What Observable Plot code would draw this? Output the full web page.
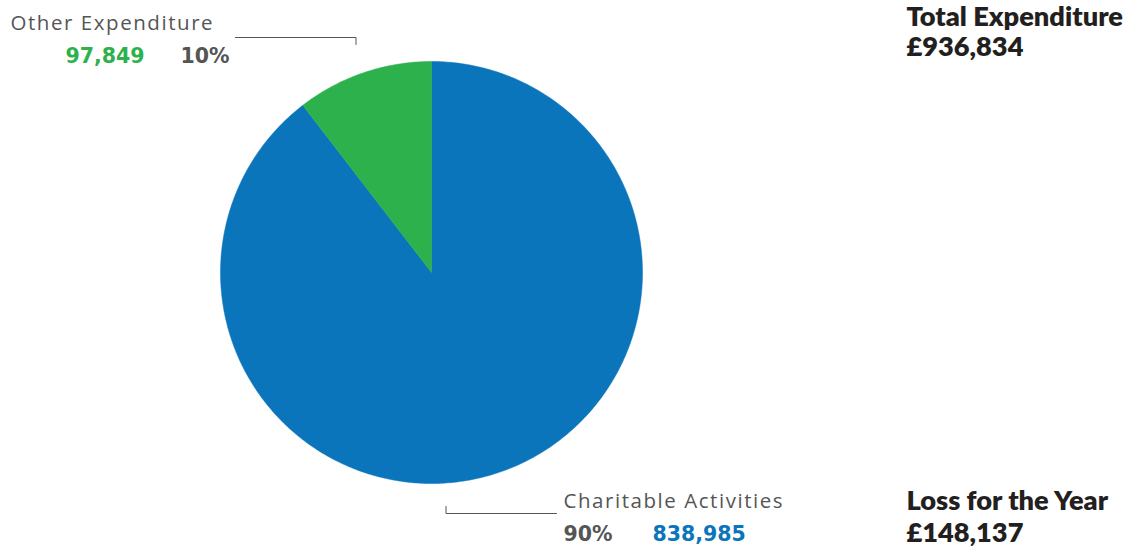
<!DOCTYPE html>
<html><head><meta charset="utf-8">
<script src="https://cdn.jsdelivr.net/npm/d3@7"></script>
<script src="https://cdn.jsdelivr.net/npm/@observablehq/plot@0.6"></script>
<style>body{margin:0;background:#fff;} svg{display:block;}</style>
</head><body><div id="chart"></div>
<script>
const categories = ["Other Expenditure", "Charitable Activities"];
const values = [97849, 838985];
const percents = ["10%", "90%"];
const colors = ["#2db14c", "#0a75bb"];
const totalLabel = "Total Expenditure";
const totalValue = "£936,834";
const lossLabel = "Loss for the Year";
const lossValue = "£148,137";

const fmt = d3.format(",");
// reversed so Charitable starts at 12 o'clock clockwise, Other ends at 2π
const arcs = d3.pie().sort(null).value(d => d)(values.slice().reverse());
const slicesPts = [];
arcs.forEach((a, i) => {
  const cat = categories[values.length - 1 - i];
  const n = Math.max(4, Math.ceil((a.endAngle - a.startAngle) * 90));
  slicesPts.push({cat, x: 0, y: 0});
  for (let k = 0; k <= n; k++) {
    const t = a.startAngle + (a.endAngle - a.startAngle) * k / n;
    slicesPts.push({cat, x: Math.sin(t), y: Math.cos(t)});
  }
  slicesPts.push({cat, x: 0, y: 0});
});

// leader lines (unit coords relative to pie radius)
const px = p => (p - 431) / 211, py = p => (272 - p) / 211;
const leaders = [
  {g: "o", x: px(235), y: py(37)}, {g: "o", x: px(355.5), y: py(37)}, {g: "o", x: px(355.5), y: py(44)},
  {g: "c", x: px(445.5), y: py(506)}, {g: "c", x: px(445.5), y: py(513)}, {g: "c", x: px(556), y: py(513)}
];

const gray = "#555";
const lightFont = "'Open Sans', sans-serif";
const boldNum = "'DejaVu Sans', sans-serif";
const headFont = "Lato, sans-serif";
const T = (text, dx, dy, o) => Plot.text([text], {text: d => d, frameAnchor: "top-left", dx, dy, textAnchor: "start", lineAnchor: "bottom", ...o});

const chart = Plot.plot({
  width: 1146, height: 546,
  margin: 0,
  x: {domain: [-1, 1], range: [220, 642], axis: null},
  y: {domain: [-1, 1], range: [483, 61], axis: null},
  color: {domain: categories, range: colors},
  style: {background: "#fff"},
  marks: [
    Plot.line(slicesPts, {x: "x", y: "y", z: "cat", fill: "cat", stroke: "cat", strokeWidth: 0.5, curve: "linear"}),
    Plot.line(leaders, {x: "x", y: "y", z: "g", stroke: gray, strokeWidth: 1}),
    T(categories[0], 10, 29, {fontFamily: lightFont, fontSize: 20.5, fill: gray, fontWeight: 400}),
    T(fmt(values[0]), 65, 62, {fontFamily: boldNum, fontSize: 20.5, fill: colors[0], fontWeight: 700}),
    T(percents[0], 180, 62, {fontFamily: boldNum, fontSize: 20.5, fill: gray, fontWeight: 700}),
    T(categories[1], 563, 507, {fontFamily: lightFont, fontSize: 20.5, fill: gray, fontWeight: 400}),
    T(percents[1], 563, 540, {fontFamily: boldNum, fontSize: 20.5, fill: gray, fontWeight: 700}),
    T(fmt(values[1]), 652, 540, {fontFamily: boldNum, fontSize: 20.5, fill: colors[1], fontWeight: 700}),
    T(totalLabel, 906, 25, {fontFamily: headFont, fontSize: 27.2, fill: "#231f20", fontWeight: 800}),
    T(totalValue, 906, 55, {fontFamily: headFont, fontSize: 27.2, fill: "#231f20", fontWeight: 800}),
    T(lossLabel, 906, 509, {fontFamily: headFont, fontSize: 27.2, fill: "#231f20", fontWeight: 800}),
    T(lossValue, 906, 541, {fontFamily: headFont, fontSize: 27.2, fill: "#231f20", fontWeight: 800})
  ]
});
d3.select(chart).selectAll("text").filter(function() { return categories.includes(this.textContent); })
  .attr("letter-spacing", "1.55px");
document.getElementById("chart").appendChild(chart);
</script></body></html>
